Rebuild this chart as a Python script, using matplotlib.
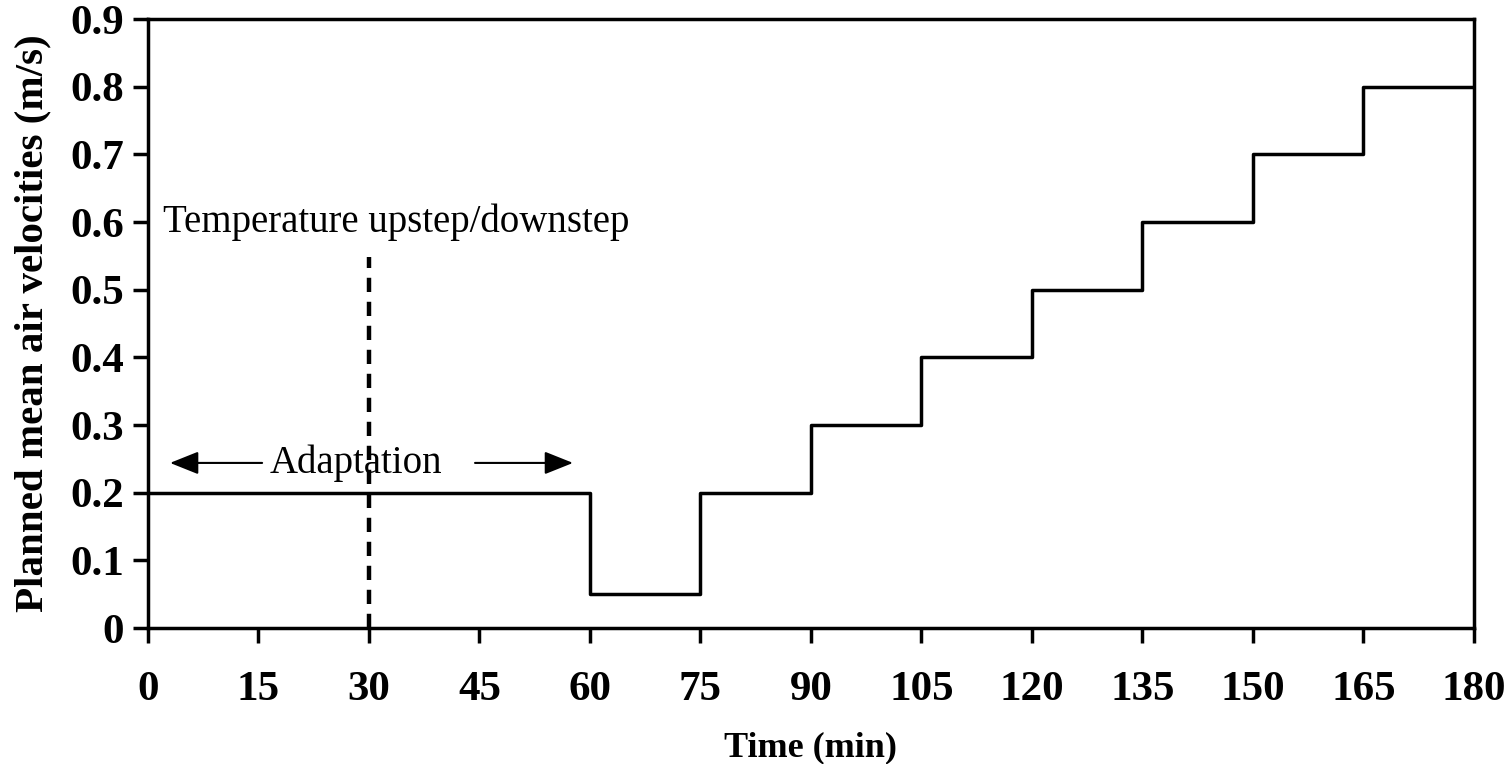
import matplotlib
matplotlib.use("Agg")
import matplotlib.pyplot as plt

plt.rcParams["font.family"] = ["Liberation Serif", "DejaVu Serif"]

# step schedule: velocity held from each start time to the next
step_start = [0, 60, 75, 90, 105, 120, 135, 150, 165, 180]
velocity   = [0.2, 0.05, 0.2, 0.3, 0.4, 0.5, 0.6, 0.7, 0.8, 0.8]

x_ticks = [0, 15, 30, 45, 60, 75, 90, 105, 120, 135, 150, 165, 180]
y_ticks = [0, 0.1, 0.2, 0.3, 0.4, 0.5, 0.6, 0.7, 0.8, 0.9]
y_labels = ["0", "0.1", "0.2", "0.3", "0.4", "0.5", "0.6", "0.7", "0.8", "0.9"]

step_time = 30       # temperature upstep/downstep
step_top = 0.548
adapt_y = 0.244

fig = plt.figure(figsize=(15.11, 7.64), dpi=100, facecolor="white")
ax = fig.add_axes([0.0979, 0.178, 0.8776, 0.797])

ax.step(step_start, velocity, where="post", color="black", lw=2.5)
ax.plot([step_time, step_time], [0, step_top], color="black", lw=3.2,
        dashes=(3.2, 2.2))

ax.text(2, 0.6, "Temperature upstep/downstep", fontsize=28,
        ha="left", va="center")
ax.text(28.2, adapt_y, "Adaptation", fontsize=28, ha="center", va="center")
arrow_kw = dict(arrowstyle="-|>,head_length=0.55,head_width=0.22",
                color="black", lw=1.5, mutation_scale=32, shrinkA=0, shrinkB=0)
ax.annotate("", xy=(3.0, adapt_y), xytext=(15.5, adapt_y),
            arrowprops=arrow_kw)
ax.annotate("", xy=(57.7, adapt_y), xytext=(44.4, adapt_y),
            arrowprops=arrow_kw)

ax.set_xlim(0, 180)
ax.set_ylim(0, 0.9)
ax.set_xticks(x_ticks)
ax.set_xticklabels([str(t) for t in x_ticks])
ax.set_yticks(y_ticks)
ax.set_yticklabels(y_labels)
ax.tick_params(direction="out", length=11, width=2.5, labelsize=31, pad=6)
ax.tick_params(axis="x", pad=20)
for lab in ax.get_xticklabels() + ax.get_yticklabels():
    lab.set_fontweight("bold")
for sp in ax.spines.values():
    sp.set_linewidth(2.5)

ax.set_xlabel("Time (min)", fontsize=26, fontweight="bold", labelpad=16)
ax.set_ylabel("Planned mean air velocities (m/s)", fontsize=29.5,
              fontweight="bold", labelpad=14)

fig.savefig("out.png", dpi=100, facecolor="white")
